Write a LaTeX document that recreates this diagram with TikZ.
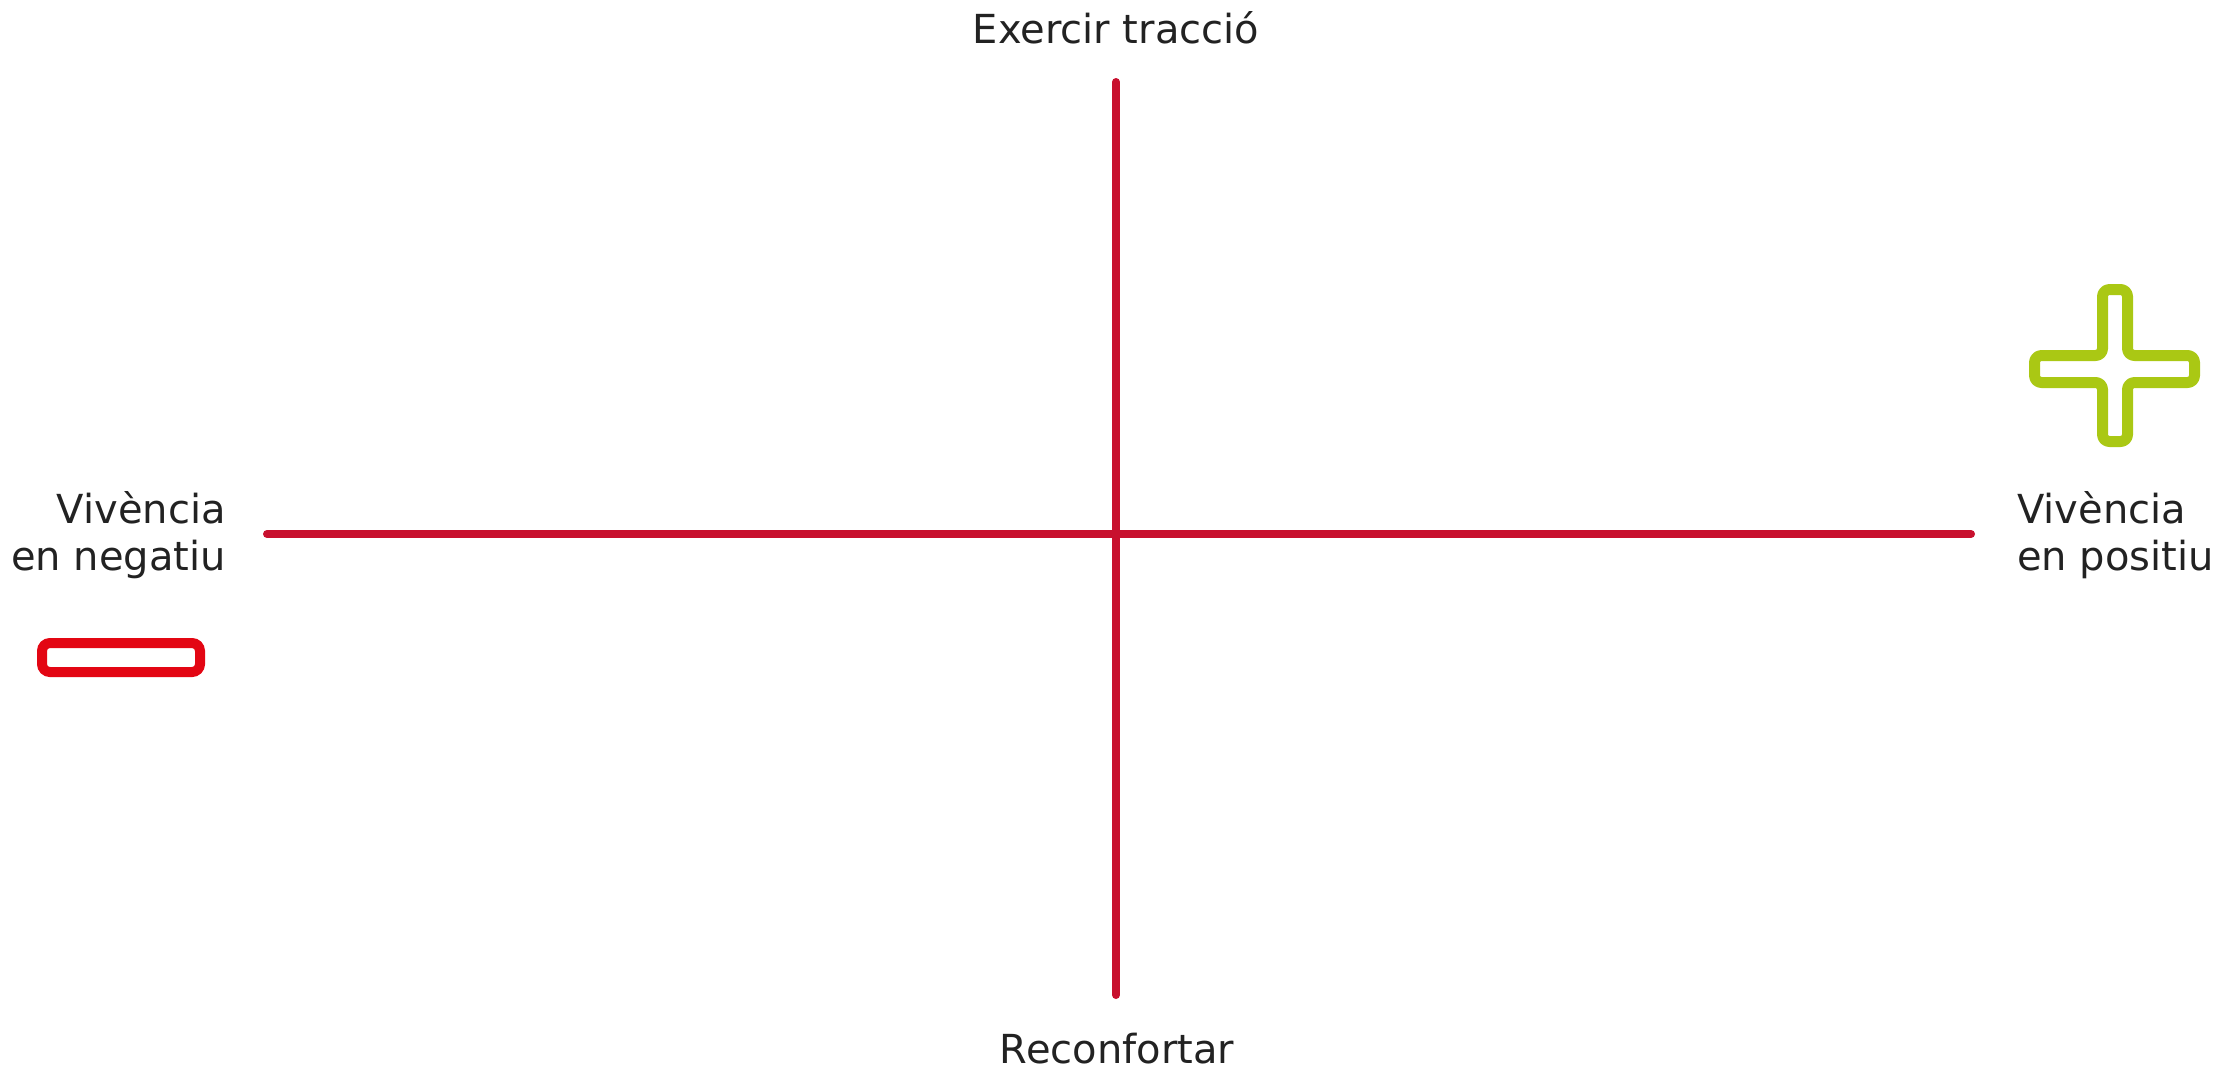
\documentclass[tikz,border=0pt]{standalone}
\usepackage{fontspec}
\setmainfont{DejaVu Sans}
\definecolor{axisred}{HTML}{C8102E}
\definecolor{minusred}{HTML}{E30613}
\definecolor{plusgreen}{HTML}{AAC814}
\definecolor{labelgray}{HTML}{222222}
\begin{document}
\begin{tikzpicture}[x=1pt,y=-1pt,
  axisline/.style={draw=axisred,line width=8pt,line cap=round},
  lbl/.style={text=labelgray,inner sep=0pt,font=\fontsize{40}{47}\selectfont},
  minussign/.style={draw=minusred,line width=10pt,rounded corners=8pt},
  plussign/.style={draw=plusgreen,line width=11pt,rounded corners=7pt,line join=round}]
\useasboundingbox (0,0) rectangle (2221,1069);
% axes
\coordinate (ytop) at (1116,82);
\coordinate (ybot) at (1116,995);
\coordinate (xleft) at (267,534);
\coordinate (xright) at (1971,534);
\draw[axisline] (ytop) -- (ybot);
\draw[axisline] (xleft) -- (xright);
% labels
\node[lbl,anchor=base] (top) at (1116,43) {Exercir tracció};
\node[lbl,anchor=base] (bottom) at (1117,1063) {Reconfortar};
\node[lbl,anchor=base east,align=right] (left) at (226,570) {Vivència\\en negatiu};
\node[lbl,anchor=base west,align=left] (right) at (2017,570) {Vivència\\en positiu};
% minus sign
\draw[minussign] (42,643) rectangle (200,672);
% plus sign
\draw[plussign] (2102.5,289.5) -- (2127.5,289.5) -- (2127.5,355.5) -- (2194.5,355.5)
  -- (2194.5,382.5) -- (2127.5,382.5) -- (2127.5,441.5) -- (2102.5,441.5)
  -- (2102.5,382.5) -- (2034.5,382.5) -- (2034.5,355.5) -- (2102.5,355.5) -- cycle;
\end{tikzpicture}
\end{document}
